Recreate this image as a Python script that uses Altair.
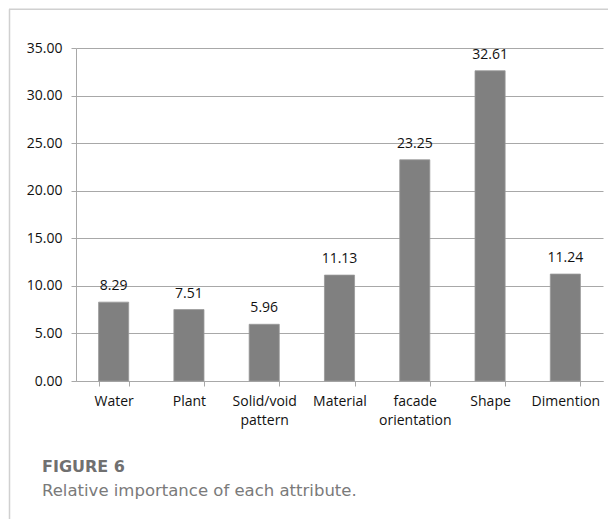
import altair as alt
import pandas as pd

# Relative importance (%) of each design attribute
attributes = ["Water", "Plant", "Solid/void pattern", "Material",
              "facade orientation", "Shape", "Dimention"]
importance = [8.29, 7.51, 5.96, 11.13, 23.25, 32.61, 11.24]
y_ticks = [0, 5, 10, 15, 20, 25, 30, 35]

caption_title = "FIGURE 6"
caption_text = "Relative importance of each attribute."

df = pd.DataFrame({"attribute": attributes, "importance": importance})

FONT = "Open Sans"
CAP_FONT = "DejaVu Sans"
GRID = "#a8a8a8"
INK = "#111111"

x_enc = alt.X(
    "attribute:N",
    sort=attributes,
    scale=alt.Scale(paddingInner=0.6, paddingOuter=0.3),
    axis=alt.Axis(
        title=None, labelAngle=0, tickBand="extent", tickSize=5,
        domainColor=GRID, tickColor=GRID, labelFont=FONT, labelFontSize=14,
        labelColor=INK, labelPadding=8, labelLineHeight=19,
        labelExpr="length(datum.label) > 10 ? split(datum.label, ' ') : datum.label",
    ),
)
y_enc = alt.Y(
    "importance:Q",
    scale=alt.Scale(domain=[0, 35], nice=False),
    axis=alt.Axis(
        title=None, values=y_ticks, format=".2f", grid=True, gridColor=GRID,
        domainColor=GRID, tickColor=GRID, tickSize=5, labelFont=FONT,
        labelFontSize=14, labelColor=INK, labelPadding=9,
    ),
)

base = alt.Chart(df)
bars = base.mark_bar(color="#808080", stroke="#999999", strokeWidth=0.8).encode(x=x_enc, y=y_enc)
labels = base.mark_text(
    font=FONT, fontSize=14, color=INK, baseline="alphabetic", dy=-12
).encode(x=x_enc, y=y_enc, text=alt.Text("importance:Q", format=".2f"))

one = alt.Chart(pd.DataFrame({"k": [0]}))
# light panel frame on the left and top edges
frame_left = one.mark_rule(color="#d0d0d0", strokeWidth=1.5).encode(
    x=alt.value(-66.5), y=alt.value(-38.8), y2=alt.value(480)
)
frame_top = one.mark_rule(color="#d0d0d0", strokeWidth=1.5).encode(
    x=alt.value(-67), x2=alt.value(540), y=alt.value(-38.8)
)
cap1 = one.mark_text(
    font=CAP_FONT, fontSize=16, fontWeight="bold", color="#707070",
    align="left", baseline="alphabetic"
).encode(x=alt.value(-34), y=alt.value(423.5), text=alt.value(caption_title))
cap2 = one.mark_text(
    font=CAP_FONT, fontSize=16.5, color="#7a7a7a", align="left", baseline="alphabetic"
).encode(x=alt.value(-34), y=alt.value(447.5), text=alt.value(caption_text))

chart = alt.layer(bars, labels, frame_left, frame_top, cap1, cap2).properties(
    width=527, height=333,
    autosize=alt.AutoSizeParams(type="none"),
    padding={"left": 76, "top": 48, "right": 5, "bottom": 138},
    background="white",
).configure_view(stroke=None)

chart.save("out.html", embed_options={"renderer": "svg", "actions": False})
